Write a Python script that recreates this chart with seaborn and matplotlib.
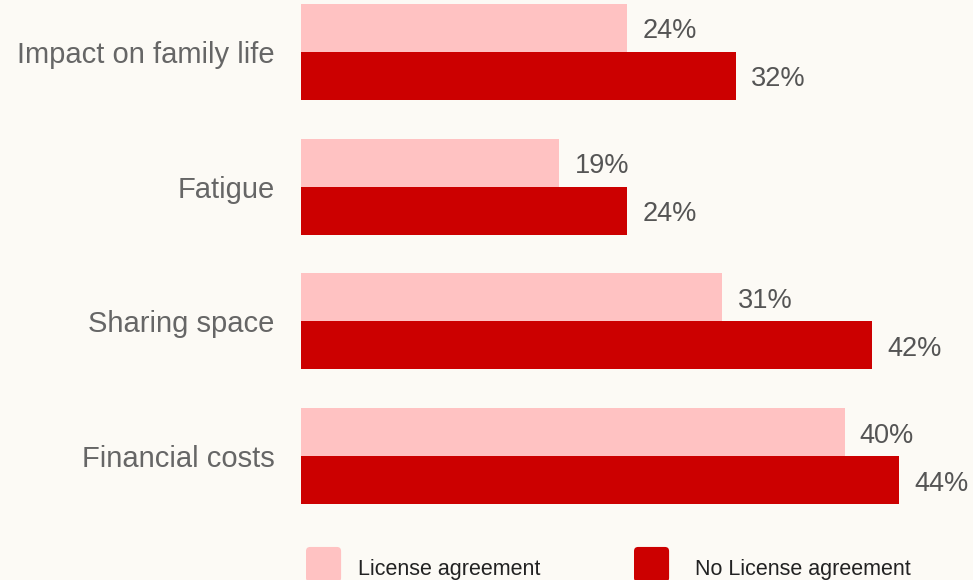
import pandas as pd
import matplotlib.pyplot as plt
import seaborn as sns
from matplotlib.patches import FancyBboxPatch
from matplotlib.legend_handler import HandlerPatch

categories = ["Impact on family life", "Fatigue", "Sharing space", "Financial costs"]
license_vals = [24, 19, 31, 40]
no_license_vals = [32, 24, 42, 44]
series = ["License agreement", "No License agreement"]

df = pd.DataFrame({
    "category": categories * 2,
    "group": [series[0]] * 4 + [series[1]] * 4,
    "value": license_vals + no_license_vals,
})

bg = "#FCFAF5"
sns.set_theme(style="white")
plt.rcParams["font.family"] = ["Liberation Sans", "DejaVu Sans"]

fig = plt.figure(figsize=(9.73, 5.8), dpi=100)
fig.patch.set_facecolor(bg)
ax = fig.add_axes([301 / 973, 60 / 580, 672 / 973, 520 / 580])
ax.set_facecolor(bg)

sns.barplot(data=df, x="value", y="category", hue="group", orient="h",
            palette=["#FFC2C2", "#CC0000"], width=0.713, saturation=1,
            linewidth=0, ax=ax)

# percentage labels, nudged a little below bar centre like the original
for cont in ax.containers:
    labels = ax.bar_label(cont, fmt="{:.0f}%", padding=11, fontsize=19.5,
                          color="#555555")
    for t in labels:
        t.xyann = (11, -2.5)

ax.set_xlim(0, 49.45)
ax.set_ylim(3.474, -0.386)
ax.set_xlabel("")
ax.set_ylabel("")
ax.set_xticks([])
ax.tick_params(axis="y", length=0, pad=19, labelsize=21, labelcolor="#666666")
sns.despine(ax=ax, left=True, bottom=True)

# legend: two separate entries with rounded squares
handles, labs = ax.get_legend_handles_labels()
ax.get_legend().remove()


def rounded(legend, orig_handle, xdescent, ydescent, width, height, fontsize):
    return FancyBboxPatch((-xdescent, -ydescent), width, height,
                          boxstyle="round,pad=0,rounding_size=3")


hmap = {type(handles[0]): HandlerPatch(patch_func=rounded)}
common = dict(loc="lower left", bbox_transform=fig.transFigure, frameon=False,
              fontsize=15.5, handlelength=1.63, handleheight=2.128,
              borderpad=0, borderaxespad=0, labelcolor="#222222", handler_map=hmap)
leg1 = ax.legend([handles[0]], [labs[0]], bbox_to_anchor=(306 / 973, -2 / 580),
                 handletextpad=0.79, **common)
ax.add_artist(leg1)
leg2 = ax.legend([handles[1]], [labs[1]], bbox_to_anchor=(634 / 973, -2 / 580),
                 handletextpad=1.21, **common)
# text sits a bit lower than the square centre in the original
for lg in (leg1, leg2):
    for t in lg.get_texts():
        t.set_y(-3.7)

fig.savefig("out.png", dpi=100, facecolor=bg)
